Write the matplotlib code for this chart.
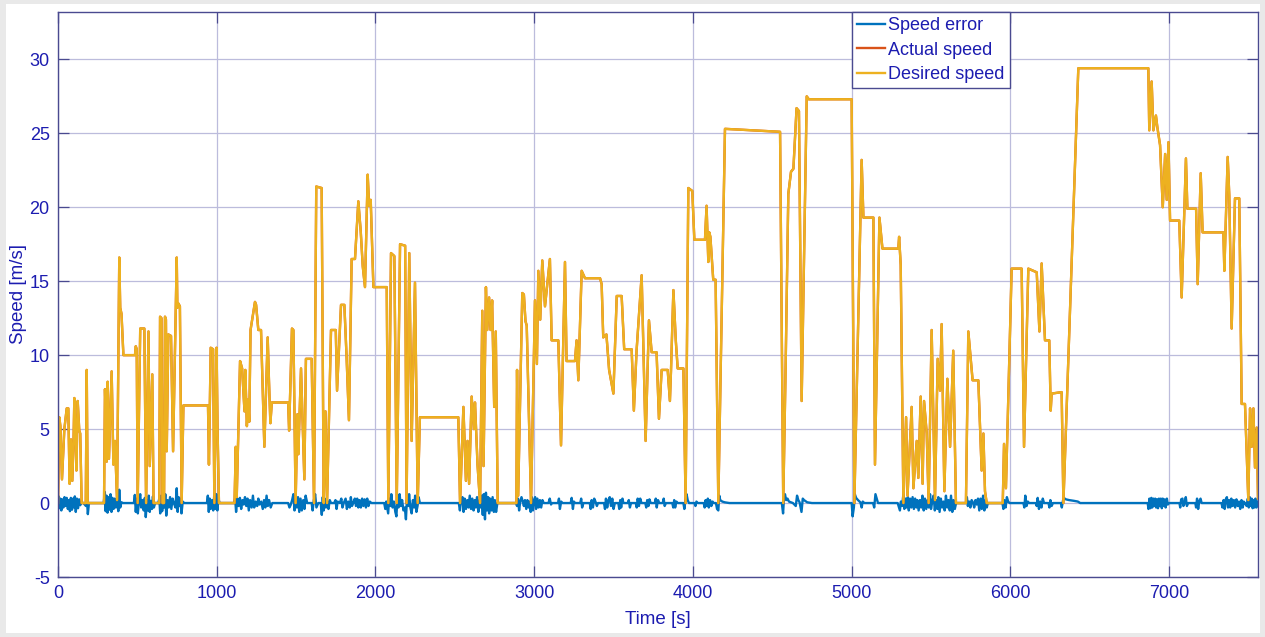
import matplotlib
matplotlib.use("Agg")
import matplotlib.pyplot as plt
from matplotlib.patches import Rectangle

# desired speed profile, (time [s], speed [m/s])
desired_pts = [
    (0, 0), (8, 5.8), (15, 5.2), (25, 1.6), (40, 5.0), (55, 6.4), (65, 6.4), (73, 1.3), (82, 4.3),
    (90, 1.5), (98, 4.2), (103, 7.1), (112, 4.0), (116, 2.2), (124, 6.9), (134, 4.9), (140, 4.7),
    (149, 0), (175, 0), (181, 9.0), (187, 0),
    (290, 0), (296, 7.7), (307, 2.8), (313, 8.2), (321, 3.0), (338, 8.9), (349, 2.6), (359, 4.2),
    (372, 0.2), (386, 16.6), (392, 13.2), (400, 12.8), (412, 10.0), (485, 10.0), (490, 10.6),
    (496, 10.4), (502, 0), (518, 11.8), (544, 11.8), (555, 0), (570, 11.6), (578, 2.5), (594, 8.7),
    (602, 0), (638, 0), (643, 12.6), (652, 12.5), (658, 0), (668, 0), (674, 12.6), (680, 12.4),
    (685, 3.5), (695, 11.4), (712, 11.3), (725, 3.5), (748, 16.6), (752, 13.2), (758, 13.5),
    (768, 13.3), (779, 0), (790, 6.6), (945, 6.6), (951, 2.6), (962, 10.5), (977, 10.4), (985, 0),
    (999, 10.5), (1005, 5.1), (1014, 0),
    (1112, 0), (1120, 3.8), (1126, 0.4), (1147, 9.6), (1160, 9.1), (1175, 6.2), (1180, 9.0),
    (1190, 5.2), (1198, 7.0), (1205, 5.5), (1213, 11.7), (1241, 13.6), (1248, 13.4), (1262, 11.7),
    (1279, 11.7), (1300, 3.8), (1321, 11.2), (1329, 8.3), (1338, 5.4), (1347, 6.8), (1450, 6.8),
    (1456, 4.9), (1474, 11.8), (1483, 11.7), (1497, 0), (1508, 6.0), (1514, 3.3), (1531, 9.1),
    (1552, 1.6), (1562, 9.75), (1598, 9.75), (1613, 0), (1627, 21.4), (1661, 21.3), (1674, 0),
    (1685, 6.2), (1695, 0), (1720, 11.7), (1750, 11.7), (1758, 7.6), (1783, 13.4), (1804, 13.4),
    (1818, 9.9), (1833, 5.6), (1850, 16.5), (1871, 16.5), (1892, 20.4), (1907, 18.4), (1920, 16.0),
    (1934, 14.6), (1951, 22.2), (1960, 20.1), (1970, 20.5), (1987, 14.6), (2071, 14.6), (2081, 0),
    (2098, 16.9), (2119, 16.7), (2134, 0), (2155, 17.5), (2187, 17.4), (2196, 0), (2213, 16.9),
    (2228, 4.2), (2249, 14.9), (2266, 0), (2280, 5.8), (2522, 5.8), (2533, 0),
    (2554, 6.5), (2570, 1.5), (2580, 4.2), (2590, 1.3), (2606, 7.2), (2620, 5.0), (2627, 6.8),
    (2643, 2.6), (2659, 0), (2673, 13.0), (2681, 2.5), (2696, 14.6), (2704, 11.7), (2716, 13.9),
    (2725, 11.7), (2735, 13.7), (2748, 6.5), (2758, 11.6), (2770, 0), (2888, 0), (2892, 9.0),
    (2899, 0.5), (2925, 14.2), (2935, 14.1), (2945, 12.3), (2953, 12.0), (2980, 0), (3005, 13.7),
    (3017, 9.4), (3026, 15.7), (3038, 12.4), (3051, 16.4), (3068, 13.3), (3099, 16.5), (3110, 11.0),
    (3152, 11.0), (3169, 3.9), (3194, 16.3), (3204, 9.6), (3257, 9.6), (3267, 11.0), (3278, 8.3),
    (3299, 15.7), (3320, 15.2), (3415, 15.2), (3425, 14.8), (3435, 11.2), (3455, 11.4),
    (3472, 9.0), (3499, 7.4), (3520, 14.0), (3551, 14.0), (3567, 10.4), (3614, 10.4), (3628, 6.25),
    (3645, 10.3), (3677, 15.4), (3702, 4.2), (3723, 12.35), (3740, 10.2), (3771, 10.2),
    (3786, 5.7), (3803, 9.0), (3841, 9.0), (3855, 6.9), (3862, 9.0), (3877, 14.4), (3892, 11.0),
    (3904, 9.1), (3940, 9.1), (3954, 0), (3971, 21.3), (3996, 21.1), (4009, 17.8), (4076, 17.8),
    (4086, 20.1), (4097, 16.3), (4103, 18.3), (4110, 18.0), (4128, 15.1), (4143, 15.1), (4160, 0),
    (4202, 25.3), (4549, 25.1), (4569, 0), (4584, 9.2), (4601, 20.9), (4618, 22.4), (4633, 22.6),
    (4653, 26.7), (4668, 26.5), (4685, 6.9), (4717, 27.5), (4730, 27.3), (5000, 27.3), (5017, 0),
    (5063, 23.2), (5074, 19.3), (5137, 19.3), (5147, 2.6), (5175, 19.3), (5194, 17.2), (5294, 17.2),
    (5299, 18.0), (5309, 16.1), (5326, 0), (5343, 5.8), (5352, 0.5), (5378, 6.5), (5389, 1.0),
    (5410, 4.2), (5420, 1.7), (5435, 7.2), (5447, 1.3), (5456, 6.9), (5473, 4.7), (5485, 0),
    (5504, 11.7), (5525, 0.2), (5542, 9.75), (5557, 7.6), (5567, 12.1), (5584, 0.8), (5603, 8.4),
    (5620, 3.8), (5640, 10.3), (5657, 0), (5720, 0), (5735, 11.6), (5762, 8.3), (5798, 8.3),
    (5819, 2.2), (5830, 4.7), (5840, 0.8), (5851, 0), (5952, 0), (5960, 4.0), (5972, 1.0),
    (6008, 15.85), (6071, 15.85), (6086, 3.8), (6113, 15.85), (6166, 15.6), (6183, 11.6),
    (6197, 16.2), (6218, 11.0), (6245, 11.0), (6254, 6.25), (6260, 7.4), (6323, 7.5), (6334, 0),
    (6428, 29.4), (6869, 29.4), (6875, 25.2), (6890, 28.5), (6901, 25.2), (6917, 26.2),
    (6926, 25.4), (6943, 24.2), (6960, 20.0), (6975, 23.6), (6985, 20.5), (6996, 24.4),
    (7006, 19.1), (7064, 19.1), (7079, 13.9), (7106, 23.3), (7115, 19.9), (7170, 19.9),
    (7180, 14.8), (7199, 22.3), (7211, 18.3), (7342, 18.3), (7348, 15.7), (7369, 23.4),
    (7379, 20.8), (7394, 11.8), (7415, 20.6), (7442, 20.6), (7457, 6.7), (7478, 6.7), (7499, 0.2),
    (7510, 6.4), (7520, 3.8), (7531, 6.4), (7541, 2.4), (7552, 5.1), (7560, 0.3),
]

# speed error, (time [s], error [m/s])
error_pts = [
    (0, 0), (4, 0.45), (9, -0.35), (15, 0.3), (21, -0.5), (27, 0.25), (34, -0.3), (41, 0.4),
    (48, -0.2), (55, 0.35), (62, -0.4), (69, 0.2), (75, -0.55), (81, 0.35), (88, -0.45), (95, 0.3),
    (101, -0.3), (106, 0.45), (112, -0.6), (119, 0.3), (126, -0.35), (133, 0.25), (140, -0.15),
    (148, 0.05), (160, 0), (176, -0.2), (181, 0.45), (188, -0.75), (195, 0),
    (288, 0), (295, 0.75), (300, -0.55), (306, 0.5), (312, -0.65), (318, 0.4), (324, -0.45),
    (331, 0.6), (337, -0.6), (343, 0.35), (350, -0.4), (357, 0.3), (364, -0.3), (372, 0.2),
    (380, -0.55), (386, 0.9), (392, -0.3), (400, 0.05), (410, 0),
    (478, 0), (484, 0.55), (490, -0.6), (497, 0.3), (503, -0.7), (510, 0.1), (518, 0.6),
    (524, -0.3), (532, 0.2), (540, -0.5), (547, 0.35), (553, -0.95), (560, 0.2), (566, -0.5),
    (572, 0.5), (578, -0.6), (585, 0.15), (592, -0.4), (598, 0.45), (604, -0.3), (612, 0),
    (632, 0), (638, 0.3), (644, -0.7), (650, 0.5), (656, -0.55), (664, 0.1), (670, -0.3),
    (676, 0.6), (682, -0.85), (690, 0.2), (698, -0.3), (706, 0.4), (714, -0.4), (722, 0.3),
    (730, 0), (740, -0.3), (748, 1.0), (754, -0.6), (760, 0.4), (766, -0.2), (772, 0.3),
    (778, -0.7), (786, 0.1), (795, 0),
    (938, 0), (944, 0.5), (950, -0.6), (956, 0.3), (962, -0.4), (970, 0.2), (978, -0.5),
    (985, 0.65), (991, -0.4), (998, 0.6), (1004, -0.5), (1010, 0.3), (1018, 0),
    (1110, 0), (1116, 0.3), (1122, -0.6), (1130, 0.3), (1138, -0.2), (1146, 0.35), (1154, -0.4),
    (1162, 0.2), (1170, -0.1), (1178, 0.4), (1186, -0.2), (1194, 0.3), (1202, -0.5), (1210, 0.2),
    (1220, -0.3), (1228, 0.5), (1236, -0.3), (1245, 0.1), (1255, -0.2), (1262, 0.3), (1270, -0.1),
    (1280, 0.1), (1290, -0.4), (1298, 0.2), (1306, -0.3), (1314, 0.5), (1322, -0.2), (1330, 0.2),
    (1340, -0.3), (1350, 0), (1360, 0),
    (1450, 0), (1458, -0.3), (1465, -0.15), (1475, 0.2), (1483, 0.6), (1490, -0.5), (1497, 0.1),
    (1505, -0.3), (1512, 0.4), (1520, -0.6), (1528, 0.3), (1536, -0.5), (1545, 0.2), (1553, -0.4),
    (1560, 0.5), (1570, 0), (1598, 0), (1604, -0.5), (1612, 0.2), (1620, 0.6), (1628, -0.3),
    (1640, 0), (1655, 0), (1662, -0.8), (1668, 0.4), (1674, -0.5), (1680, 0.3), (1688, -0.3),
    (1696, 0.1), (1704, -0.4), (1712, 0.2), (1720, 0),
    (1740, 0), (1748, 0.2), (1755, -0.4), (1762, 0.1), (1775, 0), (1785, 0.3), (1792, -0.3),
    (1800, 0), (1812, 0.3), (1820, -0.4), (1828, 0.1), (1838, -0.3), (1845, 0.4), (1852, -0.2),
    (1860, 0), (1870, 0.3), (1877, -0.2), (1885, 0.3), (1892, -0.3), (1900, 0.2), (1908, -0.3),
    (1916, 0.3), (1924, -0.2), (1932, 0.25), (1940, -0.3), (1948, 0.3), (1956, -0.2), (1964, 0.1),
    (1975, 0),
    (2055, 0), (2062, -0.4), (2068, 0.1), (2080, -0.7), (2086, 0.3), (2093, -0.2), (2100, 0.6),
    (2108, -0.3), (2116, 0.1), (2125, -0.6), (2132, -0.9), (2138, 0.4), (2145, -0.3), (2152, 0.6),
    (2160, -0.2), (2168, 0.2), (2176, -0.5), (2185, -0.3), (2192, -1.1), (2198, 0.2), (2206, -0.2),
    (2212, 0.6), (2220, -0.3), (2228, -0.7), (2236, 0.2), (2244, -0.3), (2250, 0.5), (2258, -0.6),
    (2265, -0.2), (2272, 0.4), (2280, 0),
    (2525, 0), (2532, -0.5), (2538, 0.1), (2548, 0.4), (2555, -0.6), (2562, 0.3), (2570, -0.4),
    (2578, 0.2), (2586, -0.3), (2594, 0.5), (2602, -0.4), (2610, 0.3), (2618, -0.5), (2625, 0.2),
    (2632, -0.3), (2640, 0.4), (2648, -0.6), (2656, 0.2), (2662, -0.3), (2668, 0.5), (2676, -0.8),
    (2682, 0.6), (2690, -1.1), (2696, 0.7), (2703, -0.5), (2710, 0.4), (2716, -0.7), (2722, 0.3),
    (2730, -0.5), (2738, 0.4), (2746, -0.6), (2752, 0.2), (2760, -0.6), (2768, 0),
    (2885, 0), (2892, -0.2), (2898, 0.3), (2905, -0.5), (2912, 0.1), (2920, 0.4), (2928, 0.1),
    (2935, -0.2), (2942, 0.2), (2950, -0.4), (2957, 0.2), (2964, -0.3), (2972, 0.1), (2978, -0.6),
    (2985, 0.4), (2992, -0.5), (2999, 0.2), (3006, 0.4), (3012, -0.4), (3020, 0.3), (3028, -0.3),
    (3036, 0.2), (3044, -0.3), (3052, 0.2), (3060, 0), (3090, 0), (3098, 0.3), (3106, -0.1),
    (3112, 0), (3150, 0), (3156, 0.3), (3162, -0.4), (3170, 0.1), (3178, 0), (3230, 0),
    (3236, 0.35), (3244, -0.4), (3250, 0.1), (3258, 0), (3290, 0), (3296, 0.3), (3302, -0.3),
    (3310, 0), (3350, 0), (3356, -0.4), (3362, 0.2), (3370, -0.3), (3378, 0.3), (3386, 0.1),
    (3395, -0.2), (3402, 0), (3440, 0), (3446, -0.4), (3452, 0.3), (3460, -0.3), (3468, 0.2),
    (3476, 0.4), (3484, -0.2), (3492, 0.3), (3500, -0.4), (3508, 0), (3530, 0), (3536, -0.4),
    (3542, 0.2), (3548, -0.3), (3556, 0.3), (3562, 0), (3590, 0), (3596, 0.2), (3603, -0.3),
    (3610, 0), (3640, 0), (3646, -0.3), (3652, 0.3), (3660, -0.2), (3668, 0.3), (3676, 0),
    (3700, 0), (3706, -0.3), (3712, 0.2), (3720, -0.2), (3726, 0.25), (3734, 0), (3760, 0),
    (3766, 0.3), (3772, -0.3), (3780, 0.2), (3788, 0), (3810, 0), (3816, 0.3), (3822, -0.2),
    (3830, 0), (3870, 0), (3876, -0.3), (3882, 0.2), (3888, -0.3), (3896, 0.1), (3904, 0),
    (3940, 0), (3946, -0.4), (3952, 0.1), (3960, 0.6), (3967, 0.2), (3975, 0), (4010, 0),
    (4016, -0.2), (4022, 0.1), (4030, 0), (4068, 0), (4074, -0.3), (4080, 0.2), (4086, -0.2),
    (4094, 0.3), (4100, -0.3), (4108, 0.2), (4116, -0.2), (4124, 0.1), (4130, 0), (4145, 0),
    (4152, -0.4), (4160, -0.5), (4166, 0.5), (4172, 0.2), (4185, 0.1), (4200, 0.05), (4230, 0),
    (4560, 0), (4568, -0.7), (4574, 0.4), (4580, 0.6), (4587, 0.2), (4596, 0.3), (4605, 0.1),
    (4630, 0), (4648, -0.2), (4656, 0.5), (4664, 0.2), (4672, 0.05), (4684, -0.6), (4692, 0.3),
    (4700, 0.2), (4720, 0.05), (4750, 0),
    (5000, 0), (5006, -0.9), (5014, -0.3), (5020, 0.6), (5028, 0.35), (5040, 0.2), (5055, 0.05),
    (5063, -0.3), (5070, 0.1), (5080, 0), (5135, 0), (5142, -0.3), (5150, 0.6), (5158, 0.3),
    (5166, 0), (5290, 0), (5298, -0.3), (5304, -0.5), (5310, 0.1), (5318, -0.2), (5326, 0.6),
    (5332, -0.4), (5340, 0.3), (5346, -0.3), (5354, 0.4), (5360, -0.5), (5368, 0.3), (5376, -0.3),
    (5384, 0.4), (5392, -0.4), (5400, 0.3), (5408, -0.3), (5414, 0.2), (5422, -0.5), (5430, 0.2),
    (5438, -0.3), (5446, 0.5), (5454, -0.5), (5462, 0.3), (5470, -0.4), (5478, 0.2), (5486, -0.3),
    (5494, 0.6), (5500, -0.4), (5508, 0.1), (5516, 0.5), (5524, -0.5), (5532, 0.2), (5540, -0.4),
    (5546, 0.4), (5554, -0.6), (5562, 0.3), (5570, -0.3), (5578, 0.1), (5586, -0.5), (5594, 0.5),
    (5602, -0.3), (5610, 0.2), (5618, -0.5), (5626, 0.5), (5634, -0.6), (5642, 0.2), (5650, -0.4),
    (5658, 0), (5720, 0), (5726, 0.4), (5732, -0.2), (5740, 0.1), (5748, -0.3), (5756, 0.2),
    (5764, 0.05), (5772, -0.3), (5780, 0.2), (5788, -0.1), (5796, 0.3), (5804, -0.5), (5812, 0.3),
    (5820, -0.4), (5828, 0.5), (5836, -0.5), (5844, 0.2), (5851, -0.3), (5858, 0),
    (5950, 0), (5956, -0.4), (5962, 0.2), (5970, -0.3), (5978, 0.4), (5986, 0.1), (5995, 0),
    (6082, 0), (6088, -0.3), (6094, 0.5), (6102, -0.2), (6110, 0.1), (6118, 0), (6160, 0),
    (6166, -0.2), (6172, 0.35), (6180, -0.4), (6188, 0.1), (6196, -0.3), (6204, 0.3), (6212, 0),
    (6240, 0), (6246, -0.3), (6252, 0.2), (6260, -0.2), (6268, 0), (6318, 0), (6324, -0.3),
    (6330, 0.1), (6336, 0.35), (6350, 0.25), (6370, 0.2), (6400, 0.15), (6425, 0.1), (6440, 0),
    (6865, 0), (6870, -0.4), (6876, 0.3), (6882, -0.35), (6888, 0.35), (6894, -0.3), (6900, 0.3),
    (6906, -0.2), (6912, 0.3), (6918, -0.3), (6924, 0.25), (6930, -0.35), (6936, 0.3),
    (6942, -0.2), (6948, 0.3), (6954, -0.35), (6960, 0.3), (6966, -0.2), (6972, 0.25),
    (6978, -0.3), (6986, 0.3), (6992, -0.1), (7000, 0), (7065, 0), (7070, -0.3), (7076, 0.25),
    (7084, 0.3), (7090, -0.2), (7098, 0), (7105, 0.4), (7112, -0.2), (7120, 0), (7165, 0),
    (7170, -0.3), (7176, 0.3), (7183, -0.4), (7190, 0.1), (7198, 0.3), (7205, 0),
    (7330, 0), (7336, -0.3), (7343, 0.2), (7350, -0.4), (7357, 0.25), (7364, 0.4), (7371, -0.3),
    (7378, 0.2), (7385, -0.3), (7392, 0.3), (7400, -0.2), (7408, 0.2), (7416, -0.3), (7424, 0.25),
    (7432, -0.2), (7440, 0.1), (7448, -0.4), (7456, 0.2), (7464, -0.3), (7470, 0.1), (7478, 0),
    (7488, -0.2), (7496, 0.3), (7502, -0.3), (7508, 0.4), (7514, -0.2), (7520, 0.3),
    (7526, -0.35), (7532, 0.2), (7538, -0.3), (7544, 0.3), (7550, -0.3), (7560, 0.1),
]

xticks = [0, 1000, 2000, 3000, 4000, 5000, 6000, 7000]
yticks = [-5, 0, 5, 10, 15, 20, 25, 30]

des_t = [p[0] for p in desired_pts]
des_v = [p[1] for p in desired_pts]
err_t = [p[0] for p in error_pts]
err_v = [p[1] for p in error_pts]

txt_blue = '#1c1cb0'
axis_col = '#4a4a90'
grid_col = '#bcbcdc'

plt.rcParams['font.family'] = ['Liberation Sans', 'DejaVu Sans']
plt.rcParams['axes.unicode_minus'] = False

fig = plt.figure(figsize=(12.65, 6.37), dpi=100, facecolor='#e9e9e9')
# white card behind the plot, grey frame round it
fig.patches.append(Rectangle((6 / 1265, 4 / 637), 1254 / 1265, 629 / 637,
                             transform=fig.transFigure, facecolor='white',
                             edgecolor='none', zorder=-10))

ax = fig.add_axes([58 / 1265, 60 / 637, 1200 / 1265, 565 / 637])
ax.set_zorder(5)
ax.set_facecolor('white')

ax.plot(err_t, err_v, color='#0072BD', lw=1.7, label='Speed error')
ax.plot(des_t, des_v, color='#D95319', lw=1.7, label='Actual speed')
ax.plot(des_t, des_v, color='#EDB120', lw=1.7, label='Desired speed')

ax.set_xlim(0, 7560)
ax.set_ylim(-5, 33.2)
ax.set_xticks(xticks)
ax.set_yticks(yticks)
ax.grid(True, color=grid_col, lw=0.9)
ax.set_axisbelow(True)

ax.tick_params(direction='in', length=8, width=0.9, colors=axis_col,
               labelcolor=txt_blue, labelsize=13, top=True, right=True, pad=6)
for s in ax.spines.values():
    s.set_color(axis_col)
    s.set_linewidth(1.0)

ax.set_xlabel('Time [s]', color=txt_blue, fontsize=13.5, labelpad=6)
ax.set_ylabel('Speed [m/s]', color=txt_blue, fontsize=13.5, labelpad=2)

leg = ax.legend(loc='upper left', bbox_to_anchor=(794 / 1200, 1.0), borderaxespad=0,
                fancybox=False, fontsize=13, handlelength=1.5, handletextpad=0.2,
                labelspacing=0.4, borderpad=0.3, framealpha=1)
leg.get_frame().set_edgecolor(axis_col)
leg.get_frame().set_linewidth(1.0)
for t in leg.get_texts():
    t.set_color(txt_blue)

fig.savefig('out.png', dpi=100, facecolor=fig.get_facecolor())
